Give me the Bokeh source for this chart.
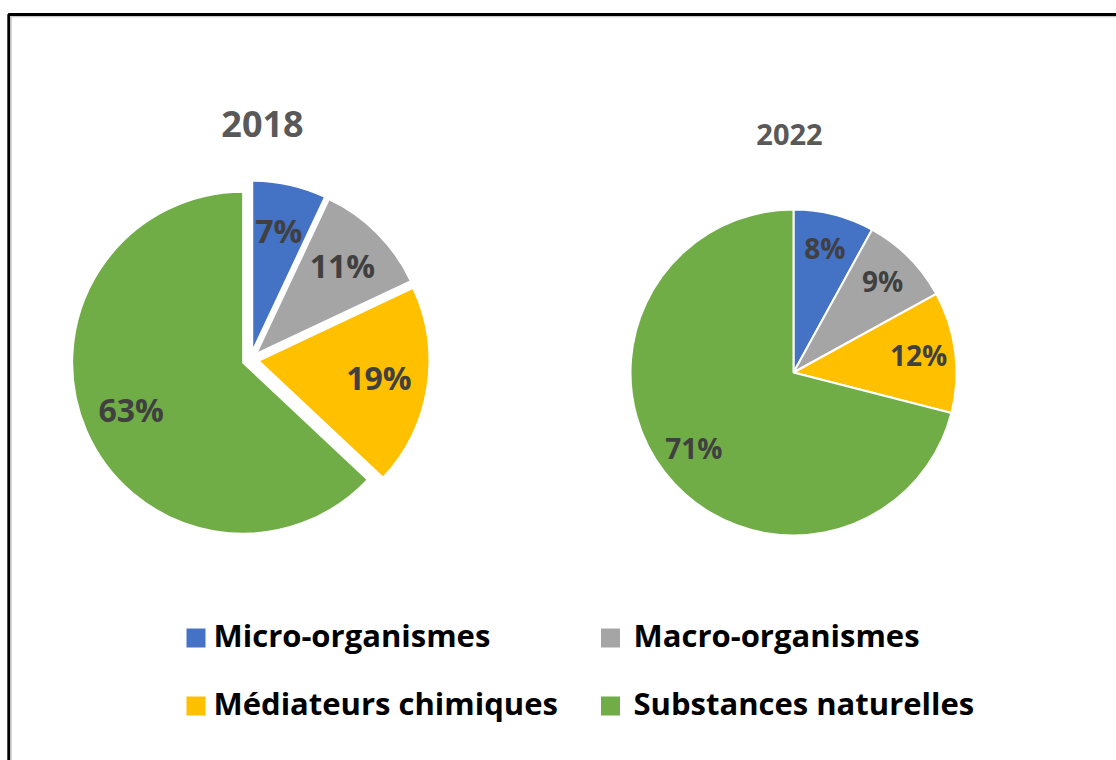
import numpy as np
from bokeh.plotting import figure
from bokeh.models import ColumnDataSource, Range1d
from bokeh.core.properties import value
from bokeh.embed import file_html
from bokeh.resources import INLINE

# ---- data ----
categories = ["Micro-organismes", "Macro-organismes",
              "Médiateurs chimiques", "Substances naturelles"]
colors = ["#4472C4", "#A5A5A5", "#FFC000", "#70AD47"]
years = ["2018", "2022"]
values_2018 = [7, 11, 19, 63]
values_2022 = [8, 9, 12, 71]

FONT = value("Open Sans")
W, H = 1116, 760

p = figure(width=W, height=H, x_range=Range1d(0, W), y_range=Range1d(0, H),
           output_backend="svg", toolbar_location=None, min_border=0,
           x_axis_location=None, y_axis_location=None)
p.grid.visible = False
p.outline_line_color = None
p.background_fill_color = "white"
p.border_fill_color = "white"

# frame (left and top edges visible; the rest is cut off)
p.line([10.5, 10.5], [-20, 744], line_color="#c8c8c8", line_width=1.5)
p.line([10.5, W + 20], [744, 744], line_color="#c8c8c8", line_width=1.5)
p.line([8.2, 8.2, W + 20], [-20, 746, 746], line_color="black", line_width=2.8)


def pie_source(vals, cx, cy, r, explode, label_r):
    v = np.array(vals, dtype=float)
    frac = v / v.sum()
    cum = np.concatenate([[0.0], np.cumsum(frac)])
    start = np.pi / 2 - 2 * np.pi * cum[1:]
    end = np.pi / 2 - 2 * np.pi * cum[:-1]
    mid = (start + end) / 2
    x = cx + explode * np.cos(mid)
    y = cy + explode * np.sin(mid)
    lx = x + label_r * np.cos(mid)
    ly = y + label_r * np.sin(mid) + 2
    labels = [f"{int(round(f * 100))}%" for f in frac]
    return ColumnDataSource(dict(x=x, y=y, start=start, end=end, lx=lx, ly=ly,
                                 color=colors, label=labels, cat=categories))


pies = [
    # values, center, radius, explosion, label radius, label size, title size, title pos
    (values_2018, (250, 401), 171, 8, 122, "32px", "36px", (262, 637)),
    (values_2022, (793, 388), 163, 0, 126, "28px", "29px", (789, 626)),
]

for yr, (vals, (cx, cy), r, ex, lr, lsize, tsize, (tx0, ty0)) in zip(years, pies):
    src = pie_source(vals, cx, cy, r, ex, lr)
    p.wedge(x="x", y="y", radius=r, start_angle="start", end_angle="end",
            fill_color="color", line_color="white", line_width=2, source=src)
    p.text(x="lx", y="ly", text="label", source=src, text_font=FONT,
           text_font_style="bold", text_font_size=lsize, text_color="#404040",
           text_align="center", text_baseline="middle")
    p.text(x=[tx0], y=[ty0], text=[yr],
           text_font=FONT, text_font_style="bold", text_font_size=tsize,
           text_color="#595959", text_align="center", text_baseline="middle")

# ---- legend (2 columns x 2 rows) ----
col_x = [195.5, 610]
text_x = [213, 633]
row_sq_y = [122.5, 54.5]
row_txt_y = [125.5, 58]
sq_x, sq_y, tx, ty_ = [], [], [], []
for i in range(len(categories)):
    row, col = divmod(i, 2)
    sq_x.append(col_x[col]); sq_y.append(row_sq_y[row])
    tx.append(text_x[col]); ty_.append(row_txt_y[row])
p.rect(x=sq_x, y=sq_y, width=19, height=19, fill_color=colors, line_color=None)
p.text(x=tx, y=ty_, text=categories, text_font=FONT, text_font_style="bold",
       text_font_size="31px", text_color="black", text_align="left",
       text_baseline="middle")

open("out.html", "w").write(file_html(p, INLINE))
